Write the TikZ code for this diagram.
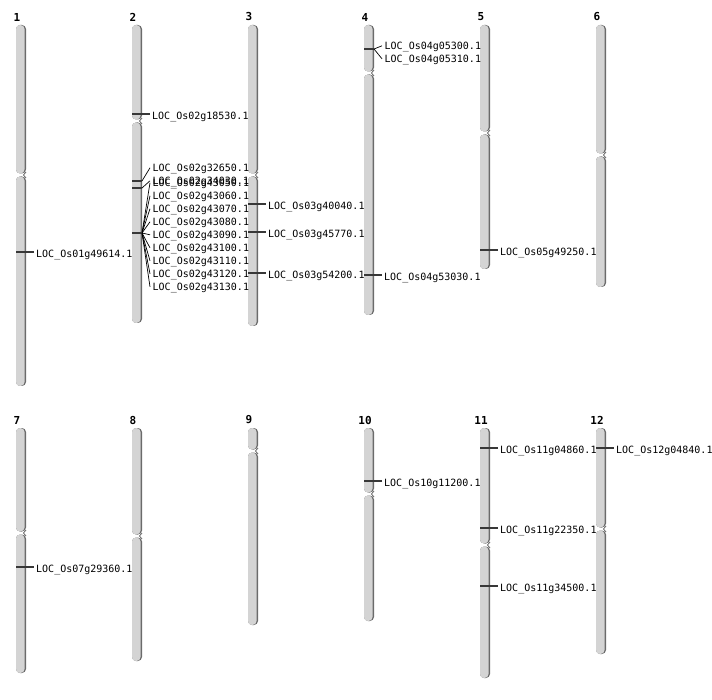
\documentclass[tikz,border=0pt]{standalone}
\usepackage{fontspec}
\newfontfamily\genefont{DejaVu Sans Mono}
\usetikzlibrary{positioning,calc}
\tikzstyle{chrnum}=[font=\genefont\bfseries\fontsize{11}{13}\selectfont, inner sep=0pt]
\tikzstyle{gene}=[font=\genefont\fontsize{10}{12}\selectfont, anchor=west, inner ysep=0pt, inner xsep=2.5pt, text height=7.3pt, text depth=0pt]
\tikzstyle{arm}=[fill=black!17, rounded corners=4pt]
\tikzstyle{armshade}=[fill=black!58, rounded corners=4pt]
\tikzstyle{notch}=[draw=black!60, line width=0.8pt]
\tikzstyle{marker}=[draw, line width=1.5pt, black!78]
\tikzstyle{link}=[draw, line width=0.7pt]

\begin{document}
\begin{tikzpicture}[x=1pt, y=-1pt]
    \useasboundingbox (0,0) rectangle (712,700);
    % Draw the twelve chromosomes: number / x / top / centromere / bottom
    \foreach \n/\x/\t/\c/\b in {1/21/25/175/386, 2/137/25/121/323, 3/253/25/175/326, 4/369/25/73/315, 5/485/25/133/269, 6/601/25/155/287, 7/21/428/533/673, 8/137/428/536/661, 9/253/428/451/625, 10/369/428/494/621, 11/485/428/545/678, 12/601/428/529/654}
    {
        \fill[armshade] (\x-5,\t) rectangle (\x+5,\c-1.5);
        \fill[arm] (\x-5,\t) rectangle (\x+3.5,\c-1.5);
        \fill[armshade] (\x-5,\c+1.5) rectangle (\x+5,\b);
        \fill[arm] (\x-5,\c+1.5) rectangle (\x+3.5,\b);
        \path[notch] (\x+5,\c-3) -- (\x+2.5,\c) -- (\x+5,\c+3);
        \node[chrnum] (chr\n) at (\x-4,\t-8) {\n};
    }

    % Markers with the label right beside them
    \foreach \x/\my/\name/\gene in {21/252/g01a/01g49614, 137/114/g02a/02g18530, 253/204/g03a/03g40040, 253/232/g03b/03g45770, 253/273/g03c/03g54200, 369/275/g04c/04g53030, 485/250/g05a/05g49250, 21/567/g07a/07g29360, 369/481/g10a/10g11200, 485/448/g11a/11g04860, 485/528/g11b/11g22350, 485/586/g11c/11g34500, 601/448/g12a/12g04840}
    {
        \coordinate (m\name) at (\x-5,\my);
        \node[gene] (\name) at (\x+12.5,\my+1.5) {LOC\_Os\gene.1};
        \path[marker] (m\name) -- (\name.west |- m\name);
    }

    % Markers whose labels are fanned out
    \foreach \x/\my/\ly/\name/\gene in {137/181/167/g02b/02g32650, 137/188/180/g02c/02g34030, 137/233/182/g02d/02g43050, 137/233/195/g02e/02g43060, 137/233/208/g02f/02g43070, 137/233/221/g02g/02g43080, 137/233/234/g02h/02g43090, 137/233/247/g02i/02g43100, 137/233/260/g02j/02g43110, 137/233/273/g02k/02g43120, 137/233/286/g02l/02g43130, 369/49/45/g04a/04g05300, 369/49/58/g04b/04g05310}
    {
        \coordinate (m\name) at (\x-5,\my);
        \coordinate (k\name) at (\x+5,\my);
        \node[gene] (\name) at (\x+13,\ly+0.8) {LOC\_Os\gene.1};
        \path[marker] (m\name) -- (k\name);
        \path[link] (k\name) -- (\name.west);
    }
\end{tikzpicture}
\end{document}
